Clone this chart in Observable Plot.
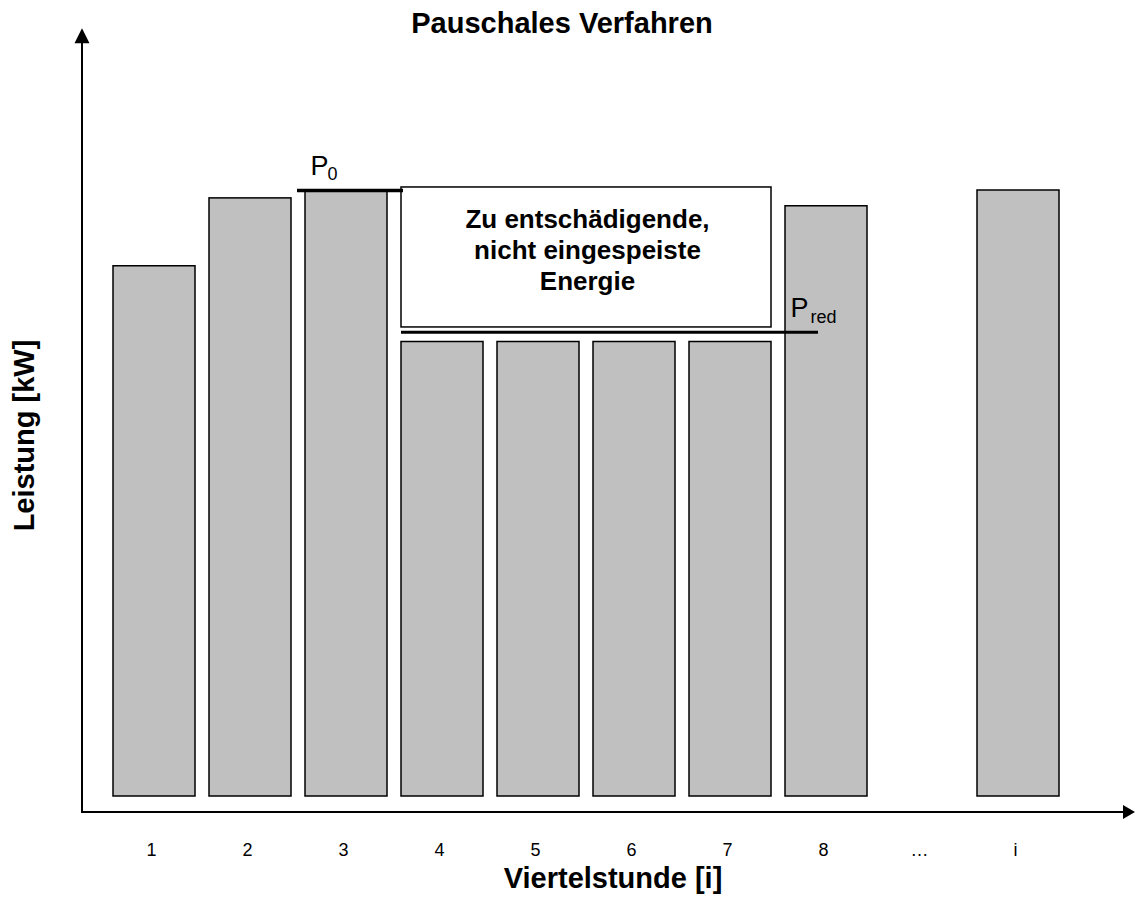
<!DOCTYPE html>
<html>
<head>
<meta charset="utf-8">
<script src="https://cdn.jsdelivr.net/npm/d3@7"></script>
<script src="https://cdn.jsdelivr.net/npm/@observablehq/plot@0.6"></script>
<style>
  html, body { margin: 0; padding: 0; background: #fff; }
</style>
</head>
<body>
<div id="chart"></div>
<script>
// ---- data ----
const QUARTERS = ["1", "2", "3", "4", "5", "6", "7", "8", "…", "i"];
const BAR_QUARTERS = ["1", "2", "3", "4", "5", "6", "7", "8", "i"];
const POWER = [87.5, 98.7, 100, 75, 75, 75, 75, 97.4, 100];
const P0 = 100;
const P_RED = 76.6;
const BOX_TOP = 100.5;
const BOX_BOTTOM = 77.4;
const AXIS_MIN = -2.64;
const AXIS_MAX = 126.7;
const TITLE = "Pauschales Verfahren";
const X_LABEL = "Viertelstunde [i]";
const Y_LABEL = "Leistung [kW]";
const BOX_TEXT = "Zu entschädigende,\nnicht eingespeiste\nEnergie";

const bars = BAR_QUARTERS.map((q, i) => ({q, p: POWER[i]}));
const FONT = "'Liberation Sans', Arial, Helvetica, sans-serif";

// axes with filled arrowheads, computed from scales/dimensions
function axesMark(index, scales, values, dimensions) {
  const g = d3.create("svg:g");
  const x0 = dimensions.marginLeft;
  const xr = dimensions.width - dimensions.marginRight;
  const yb = scales.y(AXIS_MIN);
  const yt = scales.y(AXIS_MAX);
  g.append("line").attr("x1", x0).attr("x2", x0).attr("y1", yb + 1).attr("y2", yt + 12)
    .attr("stroke", "#000").attr("stroke-width", 2);
  g.append("path").attr("d", `M${x0},${yt}L${x0 - 7.5},${yt + 15}L${x0 + 7.5},${yt + 15}Z`).attr("fill", "#000");
  g.append("line").attr("x1", x0 - 1).attr("x2", xr - 10).attr("y1", yb).attr("y2", yb)
    .attr("stroke", "#000").attr("stroke-width", 2);
  g.append("path").attr("d", `M${xr},${yb}L${xr - 12},${yb - 7}L${xr - 12},${yb + 7}Z`).attr("fill", "#000");
  return g.node();
}

const chart = Plot.plot({
  width: 1135,
  height: 899,
  marginLeft: 82,
  marginRight: 0,
  marginTop: 58,
  marginBottom: 87,
  style: {fontFamily: FONT, background: "#fff", color: "#000", overflow: "visible"},
  x: {type: "band", domain: QUARTERS, range: [82, 1090], paddingInner: 0.146, paddingOuter: 0.323, axis: null},
  y: {domain: [0, 100], range: [796, 190], axis: null},
  marks: [
    Plot.barY(bars, {x: "q", y: "p", fill: "#c0c0c0", stroke: "#000", strokeWidth: 1.5}),
    Plot.rect([{from: "4", to: "7", lo: BOX_BOTTOM, hi: BOX_TOP}],
      {x1: "from", x2: "to", y1: "lo", y2: "hi", fill: "#fff", stroke: "#000", strokeWidth: 1.5}),
    Plot.ruleY([{q: "3", v: P0}], {x1: "q", x2: "q", y: "v", stroke: "#000", strokeWidth: 3.5, insetLeft: -8, insetRight: -16}),
    Plot.ruleY([{a: "4", b: "8", v: P_RED}], {x1: "a", x2: "b", y: "v", stroke: "#000", strokeWidth: 3, insetRight: 49}),
    // P0 label
    Plot.text([{q: "3", v: P0}], {x: "q", y: "v", text: () => "P", textAnchor: "start", lineAnchor: "top", fontSize: 27, dx: -36, dy: -35}),
    Plot.text([{q: "3", v: P0}], {x: "q", y: "v", text: () => "0", textAnchor: "start", lineAnchor: "top", fontSize: 18, dx: -19, dy: -23}),
    // Pred label
    Plot.text([{q: "8", v: P_RED}], {x: "q", y: "v", text: () => "P", textAnchor: "start", lineAnchor: "top", fontSize: 27, dx: -36, dy: -34}),
    Plot.text([{q: "8", v: P_RED}], {x: "q", y: "v", text: () => "red", textAnchor: "start", lineAnchor: "top", fontSize: 18, dx: -16, dy: -22}),
    // box text
    Plot.text([{q: "5", v: BOX_TOP}], {x: "q", y: "v", text: () => BOX_TEXT, lineAnchor: "top", fontSize: 26, fontWeight: "bold", lineHeight: 1.2, dx: 49, dy: 18}),
    // tick labels
    Plot.text(QUARTERS, {x: d => d, text: d => d, frameAnchor: "bottom", lineAnchor: "top", fontSize: 18, dx: -3, dy: 31}),
    // axis lines
    axesMark,
    // title and axis labels
    Plot.text([TITLE], {frameAnchor: "top", text: d => d, lineAnchor: "top", fontSize: 29, fontWeight: "bold", dx: -47, dy: -46}),
    Plot.text([X_LABEL], {frameAnchor: "bottom", text: d => d, lineAnchor: "top", fontSize: 29, fontWeight: "bold", dx: 4, dy: 55}),
    Plot.text([Y_LABEL], {frameAnchor: "left", text: d => d, textAnchor: "middle", lineAnchor: "top", fontSize: 29, fontWeight: "bold", rotate: -90, dx: -69})
  ]
});

document.getElementById("chart").appendChild(chart);
</script>
</body>
</html>
